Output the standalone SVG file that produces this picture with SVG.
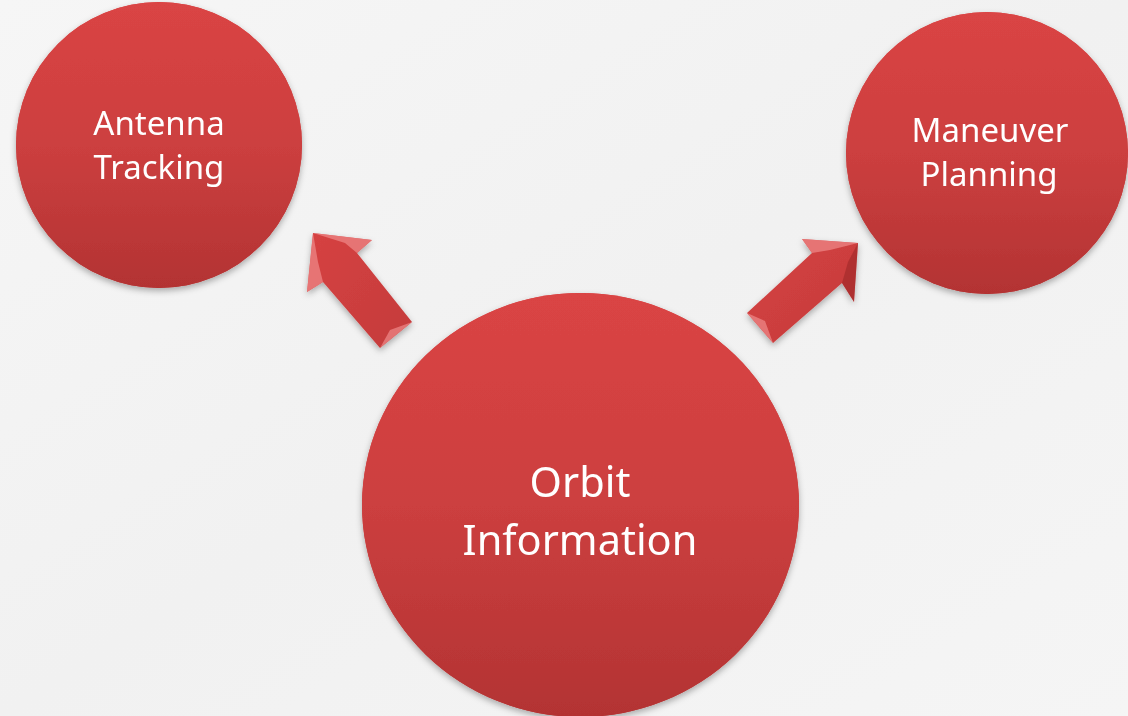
<svg xmlns="http://www.w3.org/2000/svg" width="1128" height="716" viewBox="0 0 1128 716">
<defs>
<linearGradient id="bg" x1="0" y1="0" x2="1" y2="1">
<stop offset="0" stop-color="#f6f6f6"/>
<stop offset="0.5" stop-color="#f1f1f1"/>
<stop offset="1" stop-color="#f5f5f5"/>
</linearGradient>
<linearGradient id="ball" x1="0" y1="0" x2="0" y2="1">
<stop offset="0" stop-color="#da4444"/>
<stop offset="0.5" stop-color="#cc3f3f"/>
<stop offset="1" stop-color="#b33333"/>
</linearGradient>
<radialGradient id="rim" cx="0.5" cy="0.5" r="0.5">
<stop offset="0.94" stop-color="#000" stop-opacity="0"/>
<stop offset="1" stop-color="#6a1010" stop-opacity="0.3"/>
</radialGradient>
<linearGradient id="arrowG" x1="0" y1="0" x2="1" y2="1">
<stop offset="0" stop-color="#d64242"/>
<stop offset="1" stop-color="#c43b3b"/>
</linearGradient>
<filter id="sh" x="-10%" y="-10%" width="120%" height="125%">
<feDropShadow dx="0" dy="3" stdDeviation="3" flood-color="#000" flood-opacity="0.3"/>
</filter>
</defs>
<style>
.node circle, .node ellipse { fill: url(#ball); }
.rim { fill: url(#rim); }
.lbl { font-family: "Noto Sans", "Open Sans", sans-serif; fill: #ffffff; text-anchor: middle; }
.arrow { fill: url(#arrowG); filter: url(#sh); }
.facet { fill: #f08a8a; opacity: 0.7; }
.facetD { fill: #8e2222; opacity: 0.45; }
</style>
<rect width="1128" height="716" fill="url(#bg)"/>
<g id="connectors">
<g id="arrow-left">
<polygon class="arrow" points="313,233 372,240 357,253 412,322 380,348 323,282 307,292"/>
<polygon class="facet" points="313,233 372,240 357,253 345,243"/>
<polygon class="facet" points="313,233 307,292 323,282 318,262"/>
<polygon class="facet" points="412,322 380,348 390,330"/>
</g>
<g id="arrow-right">
<polygon class="arrow" points="858,243 802,239 812,253 747,313 773,343 842,283 854,302"/>
<polygon class="facet" points="858,243 802,239 812,253 830,250"/>
<polygon class="facetD" points="858,243 854,302 842,283 848,262"/>
<polygon class="facet" points="747,313 773,343 765,321"/>
</g>
</g>
<g id="node-antenna" class="node" filter="url(#sh)">
<circle cx="159" cy="145" r="143"/>
<circle class="rim" cx="159" cy="145" r="143"/>
<text class="lbl" x="159" y="135" font-size="33">Antenna</text>
<text class="lbl" x="159" y="179" font-size="33">Tracking</text>
</g>
<g id="node-maneuver" class="node" filter="url(#sh)">
<circle cx="987" cy="153" r="141"/>
<circle class="rim" cx="987" cy="153" r="141"/>
<text class="lbl" x="990" y="142" font-size="33">Maneuver</text>
<text class="lbl" x="989" y="186" font-size="33">Planning</text>
</g>
<g id="node-orbit" class="node" filter="url(#sh)">
<ellipse cx="580.5" cy="505" rx="218.5" ry="212"/>
<ellipse class="rim" cx="580.5" cy="505" rx="218.5" ry="212"/>
<text class="lbl" x="580" y="497" font-size="41.5">Orbit</text>
<text class="lbl" x="580" y="555" font-size="41.5">Information</text>
</g>
</svg>
